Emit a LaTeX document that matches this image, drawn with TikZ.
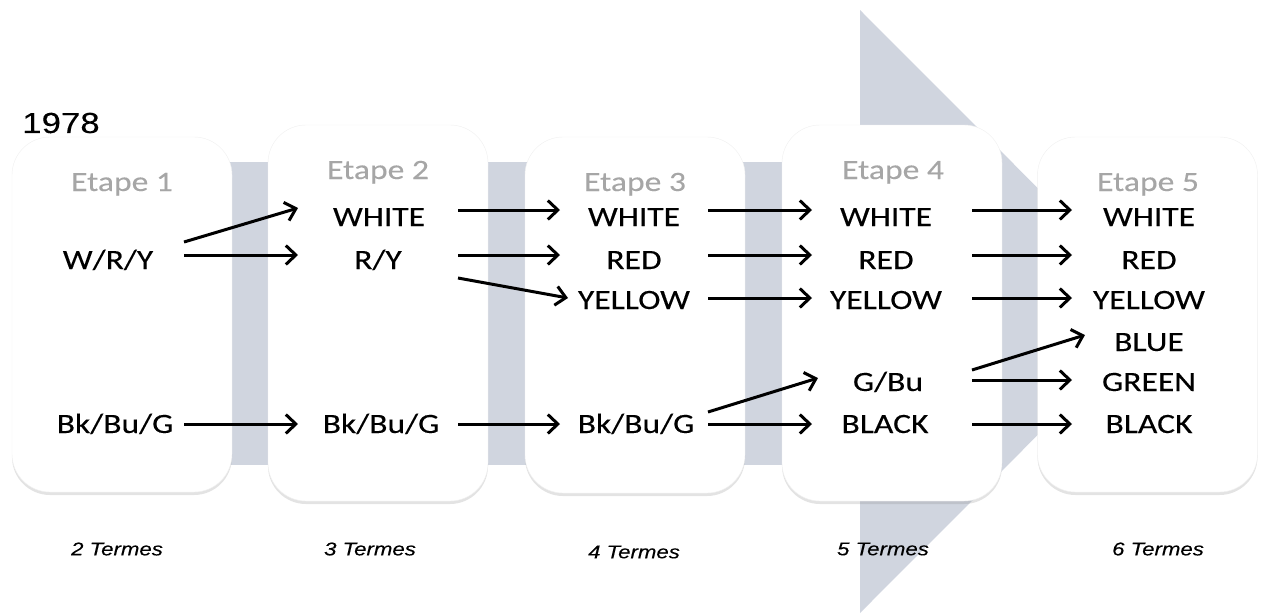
\documentclass[tikz,border=0pt]{standalone}
\usepackage{fontspec}
\setmainfont{Carlito}[FakeStretch=1.2,FakeBold=0.2]
\newfontfamily\helv{Liberation Sans}[FakeStretch=1.2,FakeBold=0.2]
\usetikzlibrary{arrows.meta,shadows,calc}
\definecolor{bandc}{RGB}{208,213,223}
\definecolor{etapec}{RGB}{166,166,166}
\begin{document}
\begin{tikzpicture}[x=1pt,y=-1pt,
  stage/.style={draw=black!6, fill=white, rounded corners=38pt, minimum width=220pt,
    drop shadow={opacity=0.22, shadow xshift=0pt, shadow yshift=-3pt}},
  lbl/.style={font=\fontsize{28}{30}\selectfont, text height=18pt, text depth=0pt, inner sep=0pt},
  etape/.style={lbl, text=etapec},
  termes/.style={font=\helv\itshape\fontsize{18.5}{20}\selectfont, inner sep=0pt},
  arr/.style={line width=3pt, -{Straight Barb[length=10pt,width=19pt]}}
]
\useasboundingbox (0,0) rectangle (1264,614);
% background arrow
\fill[bandc] (120,162) rectangle (861,465);
\fill[bandc] (860,10) -- (1161,311.5) -- (860,613) -- cycle;
% stages
\node[stage, minimum height=355pt] (B1) at (122,314.5) {};
\node[stage, minimum height=376pt] (B2) at (378,313) {};
\node[stage, minimum height=356pt] (B3) at (635,315) {};
\node[stage, minimum height=376pt] (B4) at (892,313) {};
\node[stage, minimum height=355pt] (B5) at (1147.5,314.5) {};
% year
\node[font=\helv\fontsize{29}{30}\selectfont, inner sep=0pt] (yr) at (61,123) {1978};
% headers
\node[etape] (h1) at (122,182) {Etape 1};
\node[etape] (h2) at (378,170) {Etape 2};
\node[etape] (h3) at (635,182) {Etape 3};
\node[etape] (h4) at (893,170) {Etape 4};
\node[etape] (h5) at (1148,182) {Etape 5};
% stage 1
\node[lbl] (a1) at (108,260) {W/R/Y};
\node[lbl] (a2) at (115,424) {Bk/Bu/G};
% stage 2
\node[lbl] (b1) at (379,217) {WHITE};
\node[lbl] (b2) at (378,260) {R/Y};
\node[lbl] (b3) at (381,424) {Bk/Bu/G};
% stage 3
\node[lbl] (c1) at (634,217) {WHITE};
\node[lbl] (c2) at (634,260) {RED};
\node[lbl] (c3) at (634,300) {YELLOW};
\node[lbl] (c4) at (636,424) {Bk/Bu/G};
% stage 4
\node[lbl] (d1) at (886,217) {WHITE};
\node[lbl] (d2) at (886,260) {RED};
\node[lbl] (d3) at (886,300) {YELLOW};
\node[lbl] (d4) at (888,382) {G/Bu};
\node[lbl] (d5) at (885,424) {BLACK};
% stage 5
\node[lbl] (f1) at (1149,217) {WHITE};
\node[lbl] (f2) at (1149,260) {RED};
\node[lbl] (f3) at (1149,300) {YELLOW};
\node[lbl] (f4) at (1149,342) {BLUE};
\node[lbl] (f5) at (1149,382) {GREEN};
\node[lbl] (f6) at (1149,424) {BLACK};
% term counts
\node[termes] (t1) at (117,549) {2 Termes};
\node[termes] (t2) at (370,549) {3 Termes};
\node[termes] (t3) at (634,552) {4 Termes};
\node[termes] (t4) at (883,549) {5 Termes};
\node[termes] (t5) at (1158,549) {6 Termes};
% arrow columns
\coordinate (s1) at (184,0); \coordinate (e1) at (298,0);
\coordinate (s2) at (458,0); \coordinate (e2) at (560,0);
\coordinate (s3) at (708,0); \coordinate (e3) at (812,0);
\coordinate (s4) at (972,0); \coordinate (e4) at (1072,0);
% 1 -> 2
\draw[arr] ($(s1|-a1)+(0,-18)$) -- ($(e1|-b1)+(0,-9)$);
\draw[arr] ($(s1|-a1)+(0,-5)$) -- ($(e1|-b2)+(0,-5)$);
\draw[arr] (s1|-a2) -- (e1|-b3);
% 2 -> 3
\draw[arr] ($(s2|-b1)+(0,-7)$) -- ($(e2|-c1)+(0,-7)$);
\draw[arr] ($(s2|-b2)+(0,-5)$) -- ($(e2|-c2)+(0,-5)$);
\draw[arr] ($(s2|-b2)+(0,18)$) -- ($(568,0|-c3)+(0,-2)$);
\draw[arr] (s2|-b3) -- (e2|-c4);
% 3 -> 4
\draw[arr] ($(s3|-c1)+(0,-7)$) -- ($(e3|-d1)+(0,-7)$);
\draw[arr] ($(s3|-c2)+(0,-5)$) -- ($(e3|-d2)+(0,-5)$);
\draw[arr] ($(s3|-c3)+(0,-2)$) -- ($(e3|-d3)+(0,-2)$);
\draw[arr] ($(s3|-c4)+(0,-12)$) -- ($(818,0|-d4)+(0,-4)$);
\draw[arr] (s3|-c4) -- (e3|-d5);
% 4 -> 5
\draw[arr] ($(s4|-d1)+(0,-7)$) -- ($(e4|-f1)+(0,-7)$);
\draw[arr] ($(s4|-d2)+(0,-5)$) -- ($(e4|-f2)+(0,-5)$);
\draw[arr] ($(s4|-d3)+(0,-2)$) -- ($(e4|-f3)+(0,-2)$);
\draw[arr] ($(s4|-d4)+(0,-12)$) -- ($(1085,0|-f4)+(0,-7)$);
\draw[arr] ($(s4|-d4)+(0,-2)$) -- ($(e4|-f5)+(0,-2)$);
\draw[arr] (s4|-d5) -- (e4|-f6);
\end{tikzpicture}
\end{document}
